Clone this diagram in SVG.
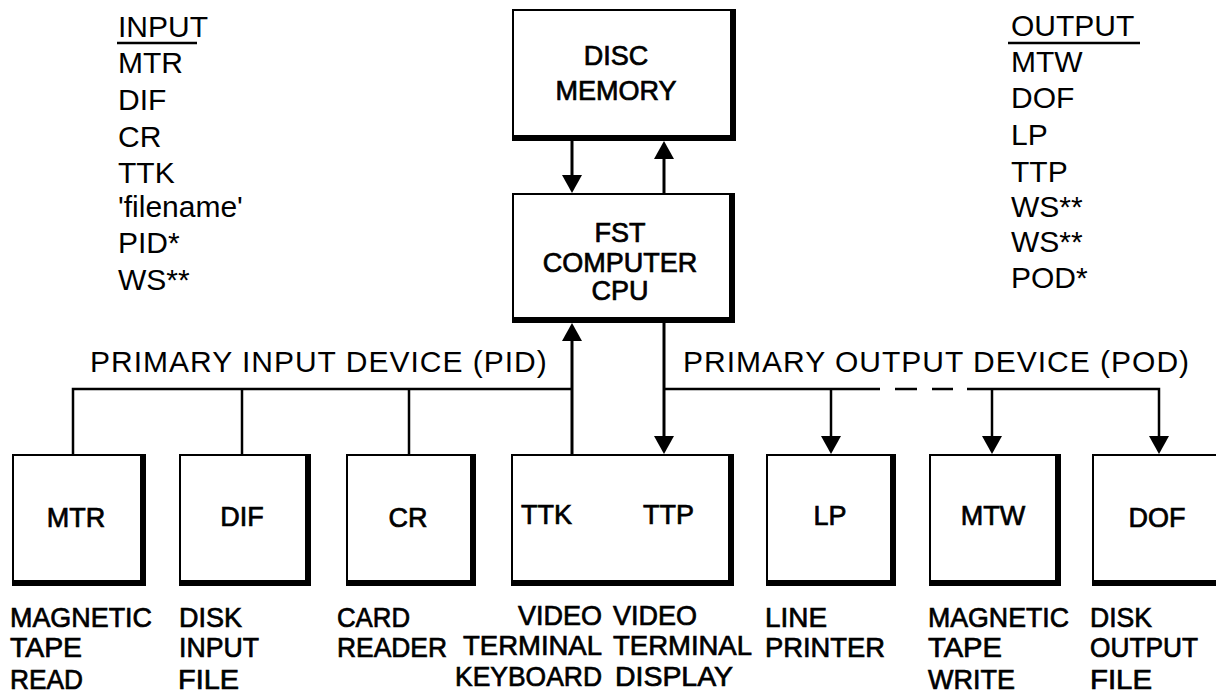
<svg xmlns="http://www.w3.org/2000/svg" width="1216" height="694" viewBox="0 0 1216 694">
  <style>
    text { font-family: "Liberation Sans", Arial, sans-serif; fill: #000; }
    .list { font-size: 30px; }
    .bus { font-size: 30px; letter-spacing: 1px; }
    .core { font-size: 27px; text-anchor: middle; stroke: #000; stroke-width: 0.7px; }
    .dev { font-size: 27px; text-anchor: middle; stroke: #000; stroke-width: 0.7px; }
    .cap { font-size: 28px; stroke: #000; stroke-width: 0.7px; }
    .box { fill: #fff; stroke: #000; stroke-width: 2; }
    .edge { fill: none; stroke: #000; stroke-width: 6; }
    .wire { fill: none; stroke: #000; stroke-width: 2.5; }
    .feed { fill: none; stroke: #000; stroke-width: 3; }
    .rule { fill: none; stroke: #000; stroke-width: 2.5; }
  </style>
  <defs>
    <marker id="ah" viewBox="0 0 18 20" refX="14" refY="10" markerWidth="18" markerHeight="20" markerUnits="userSpaceOnUse" orient="auto">
      <path d="M0,0 L18,10 L0,20 z" fill="#000"/>
    </marker>
  </defs>
  <rect width="1216" height="694" fill="#fff"/>

  <!-- input device codes -->
  <g id="input-list">
    <text class="list" x="118" y="37">INPUT</text>
    <path class="rule" d="M117,43 H197"/>
    <text class="list" x="118" y="73">MTR</text>
    <text class="list" x="118" y="110">DIF</text>
    <text class="list" x="118" y="147">CR</text>
    <text class="list" x="118" y="183">TTK</text>
    <text class="list" x="118" y="217">'filename'</text>
    <text class="list" x="118" y="253">PID*</text>
    <text class="list" x="118" y="290">WS**</text>
  </g>

  <!-- output device codes -->
  <g id="output-list">
    <text class="list" x="1011" y="36">OUTPUT</text>
    <path class="rule" d="M1008,43 H1140"/>
    <text class="list" x="1011" y="72">MTW</text>
    <text class="list" x="1011" y="108">DOF</text>
    <text class="list" x="1011" y="145">LP</text>
    <text class="list" x="1011" y="182">TTP</text>
    <text class="list" x="1011" y="217">WS**</text>
    <text class="list" x="1011" y="252">WS**</text>
    <text class="list" x="1011" y="288">POD*</text>
  </g>

  <!-- connectors -->
  <g id="connectors">
    <path class="feed" d="M572,141 V189" marker-end="url(#ah)"/>
    <path class="feed" d="M664,193 V145" marker-end="url(#ah)"/>
    <path class="feed" d="M572,454 V327" marker-end="url(#ah)"/>
    <path class="feed" d="M664,323 V450" marker-end="url(#ah)"/>
    <!-- input bus -->
    <path class="wire" d="M73,454 V389 H572"/>
    <path class="wire" d="M242,389 V454"/>
    <path class="wire" d="M409,389 V454"/>
    <!-- output bus -->
    <path class="wire" d="M664,389 H880"/>
    <path class="wire" d="M895,389 H917"/>
    <path class="wire" d="M932,389 H953"/>
    <path class="wire" d="M967,389 H1159 V450" marker-end="url(#ah)"/>
    <path class="wire" d="M831,389 V450" marker-end="url(#ah)"/>
    <path class="wire" d="M992,389 V450" marker-end="url(#ah)"/>
  </g>

  <text class="bus" x="90" y="372">PRIMARY INPUT DEVICE (PID)</text>
  <text class="bus" x="683" y="372">PRIMARY OUTPUT DEVICE (POD)</text>

  <g id="disc">
    <rect class="box" x="513" y="10" width="219" height="128"/>
    <path class="edge" d="M733,9 V138 H512"/>
    <text class="core" x="616" y="65">DISC</text>
    <text class="core" x="616" y="100">MEMORY</text>
  </g>

  <g id="cpu">
    <rect class="box" x="513" y="194" width="218" height="125"/>
    <path class="edge" d="M732,193 V320 H512"/>
    <text class="core" x="620" y="242">FST</text>
    <text class="core" x="620" y="272">COMPUTER</text>
    <text class="core" x="620" y="300">CPU</text>
  </g>

  <g id="mtr">
    <rect class="box" x="13" y="455" width="130" height="128"/>
    <path class="edge" d="M143,454 V583 H12"/>
    <text class="dev" x="76" y="527">MTR</text>
    <text class="cap" x="10" y="627" textLength="142" lengthAdjust="spacingAndGlyphs">MAGNETIC</text>
    <text class="cap" x="10" y="657" textLength="72" lengthAdjust="spacingAndGlyphs">TAPE</text>
    <text class="cap" x="10" y="689" textLength="73" lengthAdjust="spacingAndGlyphs">READ</text>
  </g>

  <g id="dif">
    <rect class="box" x="180" y="455" width="128" height="128"/>
    <path class="edge" d="M308,454 V583 H179"/>
    <text class="dev" x="242" y="526">DIF</text>
    <text class="cap" x="179" y="627" textLength="63" lengthAdjust="spacingAndGlyphs">DISK</text>
    <text class="cap" x="179" y="657" textLength="80" lengthAdjust="spacingAndGlyphs">INPUT</text>
    <text class="cap" x="178" y="689" textLength="61" lengthAdjust="spacingAndGlyphs">FILE</text>
  </g>

  <g id="cr">
    <rect class="box" x="347" y="455" width="126" height="128"/>
    <path class="edge" d="M473,454 V583 H346"/>
    <text class="dev" x="408" y="527">CR</text>
    <text class="cap" x="337" y="627" textLength="73" lengthAdjust="spacingAndGlyphs">CARD</text>
    <text class="cap" x="337" y="657" textLength="110" lengthAdjust="spacingAndGlyphs">READER</text>
  </g>

  <g id="terminal">
    <rect class="box" x="512" y="455" width="219" height="128"/>
    <path class="edge" d="M731,454 V583 H511"/>
    <text class="dev" x="521" y="524" style="text-anchor:start">TTK</text>
    <text class="dev" x="643" y="524" style="text-anchor:start">TTP</text>
    <text class="cap" x="518" y="625" textLength="84" lengthAdjust="spacingAndGlyphs">VIDEO</text>
    <text class="cap" x="463" y="655" textLength="139" lengthAdjust="spacingAndGlyphs">TERMINAL</text>
    <text class="cap" x="455" y="686" textLength="147" lengthAdjust="spacingAndGlyphs">KEYBOARD</text>
    <text class="cap" x="613" y="625" textLength="84" lengthAdjust="spacingAndGlyphs">VIDEO</text>
    <text class="cap" x="613" y="655" textLength="139" lengthAdjust="spacingAndGlyphs">TERMINAL</text>
    <text class="cap" x="615" y="686" textLength="118" lengthAdjust="spacingAndGlyphs">DISPLAY</text>
  </g>

  <g id="lp">
    <rect class="box" x="767" y="455" width="126" height="128"/>
    <path class="edge" d="M893,454 V583 H766"/>
    <text class="dev" x="830" y="525">LP</text>
    <text class="cap" x="765" y="627" textLength="62" lengthAdjust="spacingAndGlyphs">LINE</text>
    <text class="cap" x="765" y="657" textLength="120" lengthAdjust="spacingAndGlyphs">PRINTER</text>
  </g>

  <g id="mtw">
    <rect class="box" x="930" y="455" width="128" height="128"/>
    <path class="edge" d="M1058,454 V583 H929"/>
    <text class="dev" x="993" y="525">MTW</text>
    <text class="cap" x="928" y="627" textLength="141" lengthAdjust="spacingAndGlyphs">MAGNETIC</text>
    <text class="cap" x="928" y="657" textLength="74" lengthAdjust="spacingAndGlyphs">TAPE</text>
    <text class="cap" x="928" y="689" textLength="87" lengthAdjust="spacingAndGlyphs">WRITE</text>
  </g>

  <g id="dof">
    <rect class="box" x="1093" y="455" width="126" height="128"/>
    <path class="edge" d="M1219,454 V583 H1092"/>
    <text class="dev" x="1157" y="527">DOF</text>
    <text class="cap" x="1090" y="627" textLength="62" lengthAdjust="spacingAndGlyphs">DISK</text>
    <text class="cap" x="1090" y="657" textLength="108" lengthAdjust="spacingAndGlyphs">OUTPUT</text>
    <text class="cap" x="1090" y="689" textLength="62" lengthAdjust="spacingAndGlyphs">FILE</text>
  </g>
</svg>
